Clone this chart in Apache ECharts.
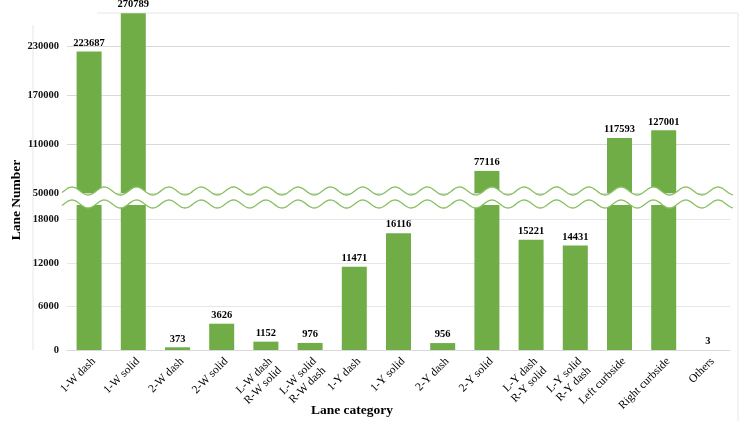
<!DOCTYPE html>
<html>
<head>
<meta charset="utf-8">
<script src="https://cdn.jsdelivr.net/npm/echarts@6/dist/echarts.min.js"></script>
<style>
html,body{margin:0;padding:0;background:#fff;}
#chart{width:747px;height:421px;}
</style>
</head>
<body>
<div id="chart"></div>
<script>
// ---- data ----
const categories = ['1-W dash','1-W solid','2-W dash','2-W solid','L-W dash\nR-W solid','L-W solid\nR-W dash','1-Y dash','1-Y solid','2-Y dash','2-Y solid','L-Y dash\nR-Y solid','L-Y solid\nR-Y dash','Left curbside','Right curbside','Others'];
const laneNumbers = [223687,270789,373,3626,1152,976,11471,16116,956,77116,15221,14431,117593,127001,3];
const upperTicks = [50000,110000,170000,230000];
const lowerTicks = [0,6000,12000,18000];
const upperRange = [50000, 271000];
const lowerRange = [0, 20000];

// ---- layout ----
const U_TOP = 13, U_BOT = 193, L_TOP = 205, L_BOT = 350;
const G_LEFT = 67, G_RIGHT = 17;
const FONT = 'Liberation Serif';
const GREEN = '#70ad47';

const chart = echarts.init(document.getElementById('chart'));

function wave(cy){
  const pts = [];
  for (let x = 62; x <= 733; x += 1) {
    pts.push([x, cy - 4 * Math.cos(2 * Math.PI * (x - 72) / 32.3)]);
  }
  return pts;
}
const topWave = wave(U_BOT - 2);
const botWave = wave(L_TOP - 1);
const fillPts = topWave.concat(botWave.slice().reverse());

const labelStyle = {
  show: true, position: 'top', distance: 3,
  fontFamily: FONT, fontWeight: 'bold', fontSize: 10.5, color: '#000'
};
const yLabel = {
  fontFamily: FONT, fontWeight: 'bold', fontSize: 10.5, color: '#111', margin: 8, showMaxLabel: false
};

chart.setOption({
  animation: false,
  backgroundColor: '#fff',
  grid: [
    {left: G_LEFT, right: G_RIGHT, top: U_TOP, bottom: 421 - U_BOT, outerBoundsMode: 'none', containLabel: false},
    {left: G_LEFT, right: G_RIGHT, top: L_TOP, bottom: 421 - L_BOT, outerBoundsMode: 'none', containLabel: false}
  ],
  xAxis: [
    {type: 'category', gridIndex: 0, data: categories, show: false},
    {type: 'category', gridIndex: 1, data: categories,
     axisLine: {lineStyle: {color: '#d9d9d9'}}, axisTick: {show: false},
     axisLabel: {interval: 0, rotate: 45, margin: 5, verticalAlign: 'top',
       fontFamily: FONT, fontSize: 11.5, color: '#000', lineHeight: 13}
    }
  ],
  yAxis: [
    {type: 'value', gridIndex: 0, min: upperRange[0], max: upperRange[1], interval: 60000,
     axisLine: {show: false}, axisTick: {show: false},
     axisLabel: Object.assign({}, yLabel, {formatter: v => upperTicks.includes(v) ? String(v) : ''}),
     splitLine: {showMaxLine: false, lineStyle: {color: '#d9d9d9'}}},
    {type: 'value', gridIndex: 1, min: lowerRange[0], max: lowerRange[1], interval: 6000,
     axisLine: {show: false}, axisTick: {show: false},
     axisLabel: Object.assign({}, yLabel, {formatter: v => lowerTicks.includes(v) ? String(v) : ''}),
     splitLine: {showMaxLine: false, lineStyle: {color: '#e6e6e6'}}}
  ],
  series: [
    {type: 'bar', xAxisIndex: 0, yAxisIndex: 0, data: laneNumbers, barWidth: 25, clip: true,
     itemStyle: {color: GREEN},
     label: Object.assign({}, labelStyle, {formatter: p => p.value >= upperRange[0] ? String(p.value) : ''})},
    {type: 'bar', xAxisIndex: 1, yAxisIndex: 1, data: laneNumbers, barWidth: 25, clip: true,
     itemStyle: {color: GREEN},
     label: Object.assign({}, labelStyle, {formatter: p => p.value <= lowerRange[1] ? String(p.value) : ''})}
  ],
  graphic: [
    {type: 'polyline', shape: {points: [[97, U_TOP], [738, U_TOP], [738, 421]]}, style: {stroke: '#e6e6e6', fill: null, lineWidth: 1}, z: 0, silent: true},
    {type: 'line', shape: {x1: 33, y1: 25, x2: 33, y2: L_BOT}, style: {stroke: '#e6e6e6', lineWidth: 1}, z: 0, silent: true},
    {type: 'polygon', shape: {points: fillPts}, style: {fill: '#fff', stroke: null}, z: 100, silent: true},
    {type: 'polyline', shape: {points: topWave}, style: {stroke: '#86c060', fill: null, lineWidth: 1.3}, z: 101, silent: true},
    {type: 'polyline', shape: {points: botWave}, style: {stroke: '#86c060', fill: null, lineWidth: 1.3}, z: 101, silent: true},
    {type: 'text', x: 17, y: 200, rotation: Math.PI / 2,
     style: {text: 'Lane Number', fontFamily: FONT, fontWeight: 'bold', fontSize: 13.5, fill: '#000', align: 'center', verticalAlign: 'middle'},
     z: 101, silent: true},
    {type: 'text', x: 352, y: 411,
     style: {text: 'Lane category', fontFamily: FONT, fontWeight: 'bold', fontSize: 13.5, fill: '#000', align: 'center', verticalAlign: 'middle'},
     z: 101, silent: true}
  ]
});
</script>
</body>
</html>
